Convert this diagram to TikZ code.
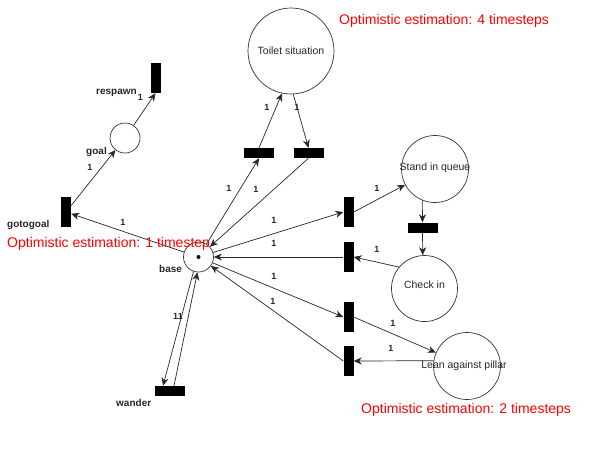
\documentclass[tikz,border=0pt]{standalone}
\usepackage{fontspec}
\setmainfont{Liberation Sans}
\usetikzlibrary{arrows.meta}
\begin{document}
\begin{tikzpicture}[x=1pt,y=-1pt,
 place/.style={circle, draw=black!80, line width=0.7pt, inner sep=0pt},
 trans/.style={fill=black, draw=none, inner sep=0pt},
 vtrans/.style={trans, minimum width=10pt, minimum height=30pt},
 htrans/.style={trans, minimum width=30pt, minimum height=10pt},
 arc/.style={draw=black!85, line width=0.7pt, -{Stealth[length=8pt,width=7pt,inset=2.5pt]}},
 wt/.style={font=\fontsize{9}{10}\selectfont\bfseries, inner sep=0pt, text=black!85},
 lbl/.style={font=\fontsize{10}{11}\selectfont\bfseries, inner sep=0pt, text=black!85},
 ptxt/.style={font=\fontsize{10.5}{12}\selectfont, inner sep=0pt, text=black!85},
 est/.style={font=\fontsize{14}{16}\selectfont, text=red, inner sep=0pt, anchor=base west}]
\useasboundingbox (0,0) rectangle (590,475);
% places
\node[place, minimum size=30pt] (base) at (198.5,257) {};
\fill[black] (base.center) circle (2pt);
\node[place, minimum size=30pt] (goal) at (125,138) {};
\node[place, minimum size=86pt] (toilet) at (291,51) {};
\node[place, minimum size=67pt] (stand) at (435,169) {};
\node[place, minimum size=66pt] (checkin) at (424.5,288.5) {};
\node[place, minimum size=67pt] (lean) at (467,366) {};
% transitions
\node[vtrans] (respawn) at (155.5,78) {};
\node[vtrans] (gotogoal) at (66,212) {};
\node[htrans] (tl) at (259,153) {};
\node[htrans] (tr) at (308.5,153) {};
\node[vtrans] (t1) at (348.5,212) {};
\node[vtrans] (t2) at (348.5,257) {};
\node[vtrans] (t3) at (348.5,317) {};
\node[vtrans] (t4) at (348.5,361) {};
\node[htrans] (tm) at (422.5,227.5) {};
\node[htrans] (wander) at (170,391) {};
% arcs
\draw[arc] (goal) -- (respawn.south);
\draw[arc] (gotogoal) -- (goal);
\draw[arc] (base) -- (gotogoal);
\draw[arc] (base) -- (tl.south);
\draw[arc] (tl.north) -- (toilet.258);
\draw[arc] (toilet.273) -- (tr.north);
\draw[arc] (tr.south) -- (base);
\draw[arc] (base) -- (t1.west);
\draw[arc] (t1.east) -- (stand);
\draw[arc] (stand.248) -- (tm.north);
\draw[arc] (tm.south) -- (checkin.93);
\draw[arc] (checkin.140) -- (t2.east);
\draw[arc] (t2.west) -- (base);
\draw[arc] (base) -- (t3.west);
\draw[arc] (t3.east) -- (lean);
\draw[arc] (lean.171) -- (t4.east);
\draw[arc] (t4.west) -- (base);
\draw[arc] (base.251) -- ([xshift=-7pt]wander.north);
\draw[arc] ([xshift=4pt]wander.north) -- (base.266);
% place texts
\node[ptxt] (ttoilet) at (291,51) {Toilet situation};
\node[ptxt] (tstand) at (435,168) {Stand in queue};
\node[ptxt] (tcheck) at (424.5,284.5) {Check in};
\node[ptxt] (tlean) at (464,366) {Lean against pillar};
% labels
\node[lbl, anchor=base east] (lrespawn) at (137,94) {respawn};
\node[lbl, anchor=base east] (lgoal) at (107,154) {goal};
\node[lbl, anchor=base west] (lgotogoal) at (7,227) {gotogoal};
\node[lbl, anchor=base west] (lbase) at (159,272.5) {base};
\node[lbl, anchor=base west] (lwander) at (116,406) {wander};
% weights
\node[wt] (w1) at (140.5,97) {1};
\node[wt] (w2) at (90,167) {1};
\node[wt] (w3) at (123,222) {1};
\node[wt] (w4) at (267,107) {1};
\node[wt] (w5) at (297,107) {1};
\node[wt] (w6) at (229,188) {1};
\node[wt] (w7) at (256,189) {1};
\node[wt] (w8) at (274,220) {1};
\node[wt] (w9) at (274,243) {1};
\node[wt] (w10) at (274,276.5) {1};
\node[wt] (w11) at (273,301) {1};
\node[wt] (w12) at (377,188) {1};
\node[wt] (w13) at (377,249) {1};
\node[wt] (w14) at (393,323) {1};
\node[wt] (w15) at (391,348) {1};
\node[wt] (w16) at (178,316) {11};
% estimations
\node[est] (e4) at (339,24) {Optimistic estimation: 4 timesteps};
\node[est] (e1) at (7,247) {Optimistic estimation: 1 timestep};
\node[est] (e2) at (361,413) {Optimistic estimation: 2 timesteps};
\end{tikzpicture}
\end{document}
